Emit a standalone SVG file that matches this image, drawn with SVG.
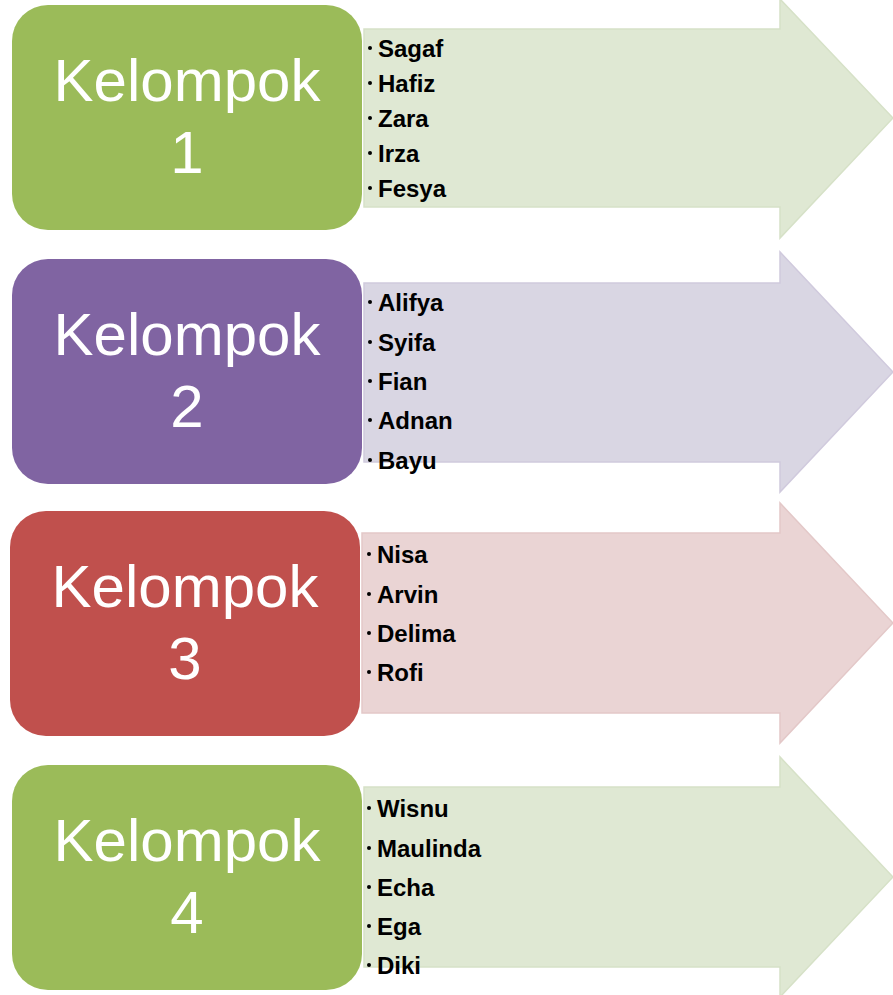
<svg xmlns="http://www.w3.org/2000/svg" width="893" height="995" viewBox="0 0 893 995">
<style>
.title{font-family:"Liberation Sans",Arial,sans-serif;font-size:60px;fill:#fff;text-anchor:middle}
.name{font-family:"Liberation Sans",sans-serif;font-weight:bold;font-size:24px;fill:#000}
.dot{fill:#000}
.a-green{fill:#DFE8D3;stroke:#D6E1C7;stroke-width:1.5}
.a-purple{fill:#D9D6E3;stroke:#D0CADD;stroke-width:1.5}
.a-red{fill:#EAD4D4;stroke:#E3C8C8;stroke-width:1.5}
</style>
<rect width="893" height="995" fill="#fff"/>
<g id="arrows">
<path class="a-green" d="M364 29 H780 V-1 L893 118 L780 238 V207 H364 Z"/>
<path class="a-purple" d="M364 283 H780 V252 L893 372 L780 492 V462 H364 Z"/>
<path class="a-red" d="M362 533 H780 V503 L893 623 L780 743 V713 H362 Z"/>
<path class="a-green" d="M364 787 H780 V757 L893 877 L780 997 V967 H364 Z"/>
</g>
<g id="node1">
<rect x="12" y="5" width="350" height="225" rx="36" fill="#9BBB59"/>
<text class="title"><tspan x="187" y="101">Kelompok</tspan><tspan x="187" y="173">1</tspan></text>
</g>
<g id="node2">
<rect x="12" y="259" width="350" height="225" rx="36" fill="#8064A2"/>
<text class="title"><tspan x="187" y="355">Kelompok</tspan><tspan x="187" y="427">2</tspan></text>
</g>
<g id="node3">
<rect x="10" y="511" width="350" height="225" rx="36" fill="#C0504D"/>
<text class="title"><tspan x="185" y="607">Kelompok</tspan><tspan x="185" y="679">3</tspan></text>
</g>
<g id="node4">
<rect x="12" y="765" width="350" height="225" rx="36" fill="#9BBB59"/>
<text class="title"><tspan x="187" y="861">Kelompok</tspan><tspan x="187" y="933">4</tspan></text>
</g>
<g id="list1">
<circle class="dot" cx="370" cy="48" r="2"/><text class="name" x="378" y="57">Sagaf</text>
<circle class="dot" cx="370" cy="83" r="2"/><text class="name" x="378" y="92">Hafiz</text>
<circle class="dot" cx="370" cy="118" r="2"/><text class="name" x="378" y="127">Zara</text>
<circle class="dot" cx="370" cy="153" r="2"/><text class="name" x="378" y="162">Irza</text>
<circle class="dot" cx="370" cy="188" r="2"/><text class="name" x="378" y="197">Fesya</text>
</g>
<g id="list2">
<circle class="dot" cx="370" cy="302" r="2"/><text class="name" x="378" y="311">Alifya</text>
<circle class="dot" cx="370" cy="342" r="2"/><text class="name" x="378" y="351">Syifa</text>
<circle class="dot" cx="370" cy="381" r="2"/><text class="name" x="378" y="390">Fian</text>
<circle class="dot" cx="370" cy="420" r="2"/><text class="name" x="378" y="429">Adnan</text>
<circle class="dot" cx="370" cy="460" r="2"/><text class="name" x="378" y="469">Bayu</text>
</g>
<g id="list3">
<circle class="dot" cx="369" cy="554" r="2"/><text class="name" x="377" y="563">Nisa</text>
<circle class="dot" cx="369" cy="594" r="2"/><text class="name" x="377" y="603">Arvin</text>
<circle class="dot" cx="369" cy="633" r="2"/><text class="name" x="377" y="642">Delima</text>
<circle class="dot" cx="369" cy="672" r="2"/><text class="name" x="377" y="681">Rofi</text>
</g>
<g id="list4">
<circle class="dot" cx="369" cy="808" r="2"/><text class="name" x="377" y="817">Wisnu</text>
<circle class="dot" cx="369" cy="848" r="2"/><text class="name" x="377" y="857">Maulinda</text>
<circle class="dot" cx="369" cy="887" r="2"/><text class="name" x="377" y="896">Echa</text>
<circle class="dot" cx="369" cy="926" r="2"/><text class="name" x="377" y="935">Ega</text>
<circle class="dot" cx="369" cy="965" r="2"/><text class="name" x="377" y="974">Diki</text>
</g>
</svg>
